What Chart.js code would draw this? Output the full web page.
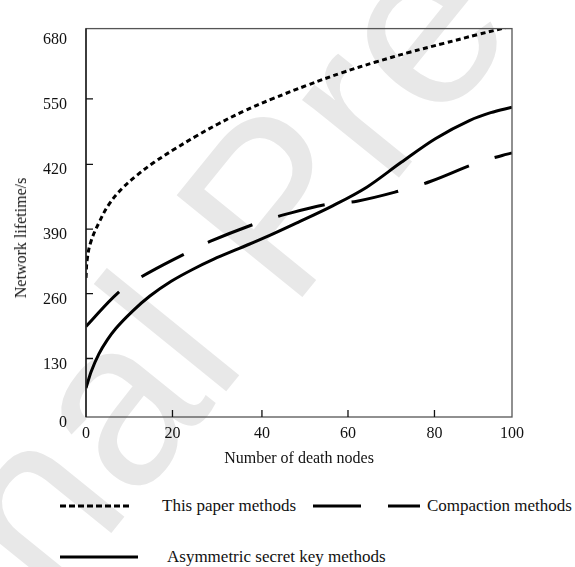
<!DOCTYPE html>
<html>
<head>
<meta charset="utf-8">
<script src="https://cdn.jsdelivr.net/npm/chart.js@4.4.0/dist/chart.umd.min.js"></script>
<style>
    body { margin: 0; background: #fff; width: 575px; height: 567px; position: relative; overflow: hidden; font-family: 'Liberation Serif', serif; color: #111; }
    #wm { position: absolute; left: 272px; top: 205px; transform: translate(-50%, -50%) rotate(-51deg); font-family: 'Liberation Sans', sans-serif; font-size: 235px; line-height: 1; color: #e8e8e8; white-space: nowrap; z-index: 0; }
    #chartBox { position: absolute; left: 0; top: 0; z-index: 1; }
    #yTitle { position: absolute; left: 21px; top: 238px; transform: translate(-50%, -50%) rotate(-90deg); font-size: 16px; white-space: nowrap; z-index: 2; }
    .lg { position: absolute; z-index: 2; }
    .lg span { position: absolute; font-size: 17px; line-height: 20px; white-space: nowrap; }
</style>
</head>
<body>
<div id="wm">Journal Pre-proof</div>
<div id="chartBox"><canvas id="lifeChart" width="575" height="468"></canvas></div>
<div id="yTitle">Network lifetime/s</div>
<div id="legend"></div>

<script>
// Dữ liệu
const seriesNames = ['This paper methods', 'Compaction methods', 'Asymmetric secret key methods'];

const xThisPaper = [0, 0.3, 1.2, 3.2, 5.5, 8.5, 12, 16, 21, 26, 31, 37, 44, 52, 60, 68, 76, 84, 92, 100];
const yThisPaper = [283, 322, 358, 398, 434, 465, 492, 518, 546, 572, 596, 622, 648, 675, 700, 722, 742, 760, 778, 795];

const xCompaction = [0, 7.7, 13, 23.2, 29.1, 40, 45.9, 56.8, 63.6, 74.5, 80.8, 91.8, 97.7, 100];
const yCompaction = [184, 254, 285, 332, 357, 394, 410, 433, 439, 462, 479, 517, 532, 537];

const xAsymmetric = [0, 1.2, 3, 5, 7, 11, 15, 20, 25, 30, 36, 43, 50, 58, 66, 74, 82, 90, 95, 100];
const yAsymmetric = [59, 92, 128, 157, 180, 216, 246, 276, 300, 321, 343, 369, 397, 430, 468, 518, 566, 603, 619, 630];

// Vạch chia trục (hình gốc chia không đều)
const xTickPos = [0, 20.3, 41.3, 61.5, 81.8, 100];
const xTickLabels = ['0', '20', '40', '60', '80', '100'];
const yTickPos = [0, 119, 251, 382, 514, 647, 780];
const yTickLabels = ['0', '130', '260', '390', '420', '550', '680'];

function toPoints(xs, ys) {
    return xs.map((x, i) => ({ x: x, y: ys[i] }));
}

// Vẽ khung và vạch chia hướng vào trong
const framePlugin = {
    id: 'frame',
    afterDatasetsDraw(chart) {
        const { ctx, chartArea: a, scales: { x, y } } = chart;
        ctx.save();
        ctx.lineWidth = 1.3;
        ctx.strokeStyle = '#555';
        ctx.strokeRect(a.left, a.top, a.right - a.left, a.bottom - a.top);
        ctx.strokeStyle = '#111';
        ctx.beginPath();
        ctx.moveTo(a.left, a.top);
        ctx.lineTo(a.left, a.bottom);
        y.ticks.forEach((t, i) => {
            if (i === 0 || i === y.ticks.length - 1) return;
            const py = y.getPixelForValue(t.value);
            ctx.moveTo(a.left, py);
            ctx.lineTo(a.left + 7, py);
        });
        x.ticks.forEach((t, i) => {
            if (i === 0 || i === x.ticks.length - 1) return;
            const px = x.getPixelForValue(t.value);
            ctx.moveTo(px, a.bottom);
            ctx.lineTo(px, a.bottom - 7);
        });
        ctx.stroke();
        ctx.restore();
    }
};

const lineCommon = {
    borderColor: '#000',
    borderWidth: 3,
    pointRadius: 0,
    fill: false,
    tension: 0.4
};

new Chart(document.getElementById('lifeChart'), {
    type: 'line',
    data: {
        datasets: [
            Object.assign({ label: seriesNames[0], data: toPoints(xThisPaper, yThisPaper), borderDash: [5, 3.5] }, lineCommon),
            Object.assign({ label: seriesNames[1], data: toPoints(xCompaction, yCompaction), borderDash: [48, 27] }, lineCommon),
            Object.assign({ label: seriesNames[2], data: toPoints(xAsymmetric, yAsymmetric) }, lineCommon, { cubicInterpolationMode: 'monotone' })
        ]
    },
    options: {
        responsive: false,
        animation: false,
        layout: { padding: { top: 12, right: 63, bottom: 0, left: 0 } },
        plugins: {
            legend: { display: false },
            tooltip: { enabled: false }
        },
        scales: {
            x: {
                type: 'linear',
                min: 0,
                max: 100,
                afterBuildTicks: function (scale) {
                    scale.ticks = xTickPos.map(v => ({ value: v }));
                },
                afterFit: function (scale) { scale.height = 51; },
                grid: { display: false, drawTicks: false },
                border: { display: false },
                ticks: {
                    padding: 7,
                    maxRotation: 0,
                    autoSkip: false,
                    color: '#111',
                    font: { family: 'Liberation Serif', size: 16 },
                    callback: function (value, index) { return xTickLabels[index]; }
                },
                title: {
                    display: true,
                    text: 'Number of death nodes',
                    color: '#111',
                    padding: 0,
                    font: { family: 'Liberation Serif', size: 16 }
                }
            },
            y: {
                min: 0,
                max: 790,
                afterBuildTicks: function (scale) {
                    scale.ticks = yTickPos.map(v => ({ value: v }));
                },
                afterFit: function (scale) { scale.width = 86; },
                grid: { display: false, drawTicks: false },
                border: { display: false },
                ticks: {
                    padding: 19,
                    labelOffset: 6,
                    autoSkip: false,
                    color: '#111',
                    font: { family: 'Liberation Serif', size: 16 },
                    callback: function (value, index) { return yTickLabels[index]; }
                }
            }
        }
    },
    plugins: [framePlugin]
});

// Chú thích bên dưới (vẽ bằng SVG)
const legendItems = [
    { name: seriesNames[0], x1: 60, x2: 132, dash: '6 3', tx: 162, cy: 506 },
    { name: seriesNames[1], x1: 313, x2: 420, dash: '48 27', tx: 427, cy: 506 },
    { name: seriesNames[2], x1: 60, x2: 138, dash: '', tx: 167, cy: 557 }
];
const legendEl = document.getElementById('legend');
legendItems.forEach(item => {
    const wrap = document.createElement('div');
    wrap.className = 'lg';
    wrap.innerHTML =
        `<svg width="575" height="20" style="position:absolute;left:0;top:${item.cy - 10}px">` +
        `<line x1="${item.x1}" y1="10" x2="${item.x2}" y2="10" stroke="#000" stroke-width="3" stroke-dasharray="${item.dash}"/></svg>` +
        `<span style="left:${item.tx}px;top:${item.cy - 10}px">${item.name}</span>`;
    legendEl.appendChild(wrap);
});
</script>
</body>
</html>
